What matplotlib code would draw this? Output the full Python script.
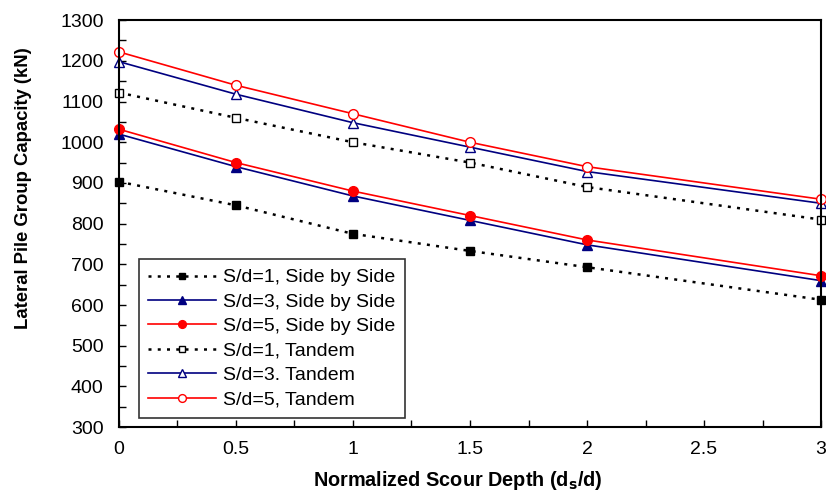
import numpy as np
import matplotlib.pyplot as plt
from matplotlib.ticker import MultipleLocator

plt.rcParams["font.family"] = ["Liberation Sans", "DejaVu Sans"]

depth = [0, 0.5, 1, 1.5, 2, 3]
sd1_side = [903, 845, 775, 733, 693, 613]
sd3_side = [1020, 940, 868, 808, 748, 660]
sd5_side = [1032, 950, 880, 820, 760, 672]
sd1_tandem = [1122, 1060, 1000, 950, 890, 810]
sd3_tandem = [1198, 1118, 1048, 988, 928, 850]
sd5_tandem = [1222, 1140, 1070, 1000, 940, 860]

navy = "#000080"
dots = (0, (1.2, 2.5))

fig = plt.figure(figsize=(8.26, 4.91), dpi=100)
ax = fig.add_axes([0.144, 0.130, 0.850, 0.829])

ax.plot(depth, sd1_side, color="black", ls=dots, lw=1.8, marker="s", ms=6,
        mfc="black", mec="black", label="S/d=1, Side by Side", clip_on=False)
ax.plot(depth, sd3_side, color=navy, lw=1.2, marker="^", ms=7,
        mfc=navy, mec=navy, label="S/d=3, Side by Side", clip_on=False)
ax.plot(depth, sd5_side, color="red", lw=1.2, marker="o", ms=7,
        mfc="red", mec="red", label="S/d=5, Side by Side", clip_on=False)
ax.plot(depth, sd1_tandem, color="black", ls=dots, lw=1.8, marker="s", ms=6,
        mfc="white", mec="black", mew=1.0, label="S/d=1, Tandem", clip_on=False)
ax.plot(depth, sd3_tandem, color=navy, lw=1.2, marker="^", ms=7,
        mfc="white", mec=navy, mew=1.0, label="S/d=3. Tandem", clip_on=False)
ax.plot(depth, sd5_tandem, color="red", lw=1.2, marker="o", ms=7,
        mfc="white", mec="red", mew=1.0, label="S/d=5, Tandem", clip_on=False)

ax.set_xlim(0, 3)
ax.set_ylim(300, 1300)
ax.xaxis.set_major_locator(MultipleLocator(0.5))
ax.xaxis.set_minor_locator(MultipleLocator(0.25))
ax.yaxis.set_major_locator(MultipleLocator(100))
ax.yaxis.set_minor_locator(MultipleLocator(50))
ax.tick_params(which="both", direction="in", labelsize=14, top=False, right=False,
               length=5, width=1)
ax.tick_params(axis="x", pad=10)
ax.tick_params(axis="y", pad=11)
ax.xaxis.set_major_formatter(plt.FuncFormatter(lambda v, p: f"{v:g}"))
for s in ax.spines.values():
    s.set_linewidth(1.5)

ax.set_xlabel(r"Normalized Scour Depth (d$_\mathbf{s}$/d)", fontsize=14.3,
              fontweight="bold", labelpad=8)
ax.set_ylabel("Lateral Pile Group Capacity (kN)", fontsize=13.3, fontweight="bold",
              labelpad=20)
ax.xaxis.label.set_x(0.483)
ax.yaxis.label.set_y(0.587)

leg = ax.legend(loc="lower left", bbox_to_anchor=(0.028, 0.022), borderaxespad=0,
                fontsize=14, frameon=True, fancybox=False, edgecolor="black",
                borderpad=0.5, handlelength=3.5, handletextpad=0.35,
                labelspacing=0.35, numpoints=1, markerscale=0.8)
leg.get_frame().set_linewidth(1.2)

fig.savefig("out.png", dpi=100)
